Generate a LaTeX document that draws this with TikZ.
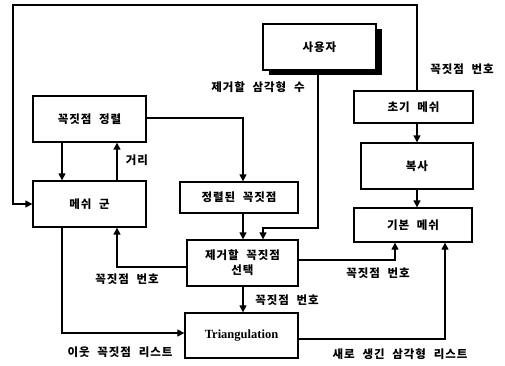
\documentclass[tikz,border=0pt]{standalone}
\usepackage{fontspec}
\setmainfont{Noto Sans CJK KR}[WordSpace=2.2, LetterSpace=8]
\newfontfamily\latinserif{Liberation Serif}
\usetikzlibrary{arrows.meta,shadows,calc}
\tikzset{
  box/.style={draw, line width=1.3pt, fill=white, inner sep=0pt, align=center, font=\fontsize{11.5}{15}\selectfont\bfseries},
  conn/.style={line width=1.3pt},
  arr/.style={conn, -{Triangle[width=7pt,length=7pt]}},
  lbl/.style={inner sep=0pt, font=\fontsize{11.5}{13}\selectfont\bfseries}
}
\begin{document}
\begin{tikzpicture}[x=1pt,y=-1pt]
\useasboundingbox (0,0) rectangle (505,365);
% boxes
\node[box, minimum width=113pt, minimum height=46pt,
      drop shadow={shadow xshift=6pt, shadow yshift=-5pt, fill=black, opacity=1}] (user) at (319.5,47) {사용자};
\node[box, minimum width=113pt, minimum height=46pt] (sort) at (89.5,119) {꼭짓점 정렬};
\node[box, minimum width=113pt, minimum height=46pt] (mesh) at (89.5,204) {메쉬 군};
\node[box, minimum width=118pt, minimum height=31pt] (sorted) at (239,197.5) {정렬된 꼭짓점};
\node[box, minimum width=111pt, minimum height=46pt] (sel) at (242.5,263) {제거할 꼭짓점\\선택};
\node[box, minimum width=113pt, minimum height=45pt, font=\fontsize{12.5}{15}\selectfont\latinserif\bfseries] (tri) at (241.5,335.5) {Triangulation};
\node[box, minimum width=119pt, minimum height=32pt] (init) at (413.5,107) {초기 메쉬};
\node[box, minimum width=112pt, minimum height=46pt] (copy) at (417,166) {복사};
\node[box, minimum width=118pt, minimum height=34pt] (base) at (413,225) {기본 메쉬};
% helper coordinates
\coordinate (tl) at (13,5);
\coordinate (tr) at (417,5);
\coordinate (xa) at (62,0);
\coordinate (xb) at (117,0);
\coordinate (xc) at (243,0);
\coordinate (xd) at (263,0);
\coordinate (xe) at (318,0);
\coordinate (xf) at (395,0);
\coordinate (xg) at (445,0);
\coordinate (xh) at (417,0);
\coordinate (ya) at (0,118);
\coordinate (yb) at (0,228);
\coordinate (yc) at (0,267);
\coordinate (yd) at (0,260);
\coordinate (ye) at (0,333);
\coordinate (yf) at (0,339);
% connectors
\draw[arr] (init.north -| xh) -- (tr) -- (tl) |- (mesh.west);
\draw[arr] (sort.south -| xa) -- (mesh.north -| xa);
\draw[arr] (mesh.north -| xb) -- (sort.south -| xb);
\draw[arr] (sort.east |- ya) -| (sorted.north -| xc);
\draw[arr] (sorted.south -| xc) -- (sel.north -| xc);
\draw[arr] (user.south -| xe) -- (xe |- yb) -- (xd |- yb) -- (sel.north -| xd);
\draw[arr] (sel.west |- yc) -| (mesh.south -| xb);
\draw[arr] (sel.east |- yd) -| (base.south -| xf);
\draw[arr] (sel.south -| xc) -- (tri.north -| xc);
\draw[arr] (mesh.south -| xa) |- (tri.west |- ye);
\draw[arr] (tri.east |- yf) -| (base.south -| xg);
\draw[arr] (init.south -| xh) -- (copy.north -| xh);
\draw[arr] (copy.south -| xh) -- (base.north -| xh);
% labels
\node[lbl] (l1) at (462,69) {꼭짓점 번호};
\node[lbl] (l2) at (137,160) {거리};
\node[lbl] (l3) at (258,87) {제거할 삼각형 수};
\node[lbl] (l4) at (127,279) {꼭짓점 번호};
\node[lbl] (l5) at (378,273) {꼭짓점 번호};
\node[lbl] (l6) at (287,300) {꼭짓점 번호};
\node[lbl] (l7) at (120,352) {이웃 꼭짓점 리스트};
\node[lbl] (l8) at (400,354) {새로 생긴 삼각형 리스트};
\end{tikzpicture}
\end{document}
